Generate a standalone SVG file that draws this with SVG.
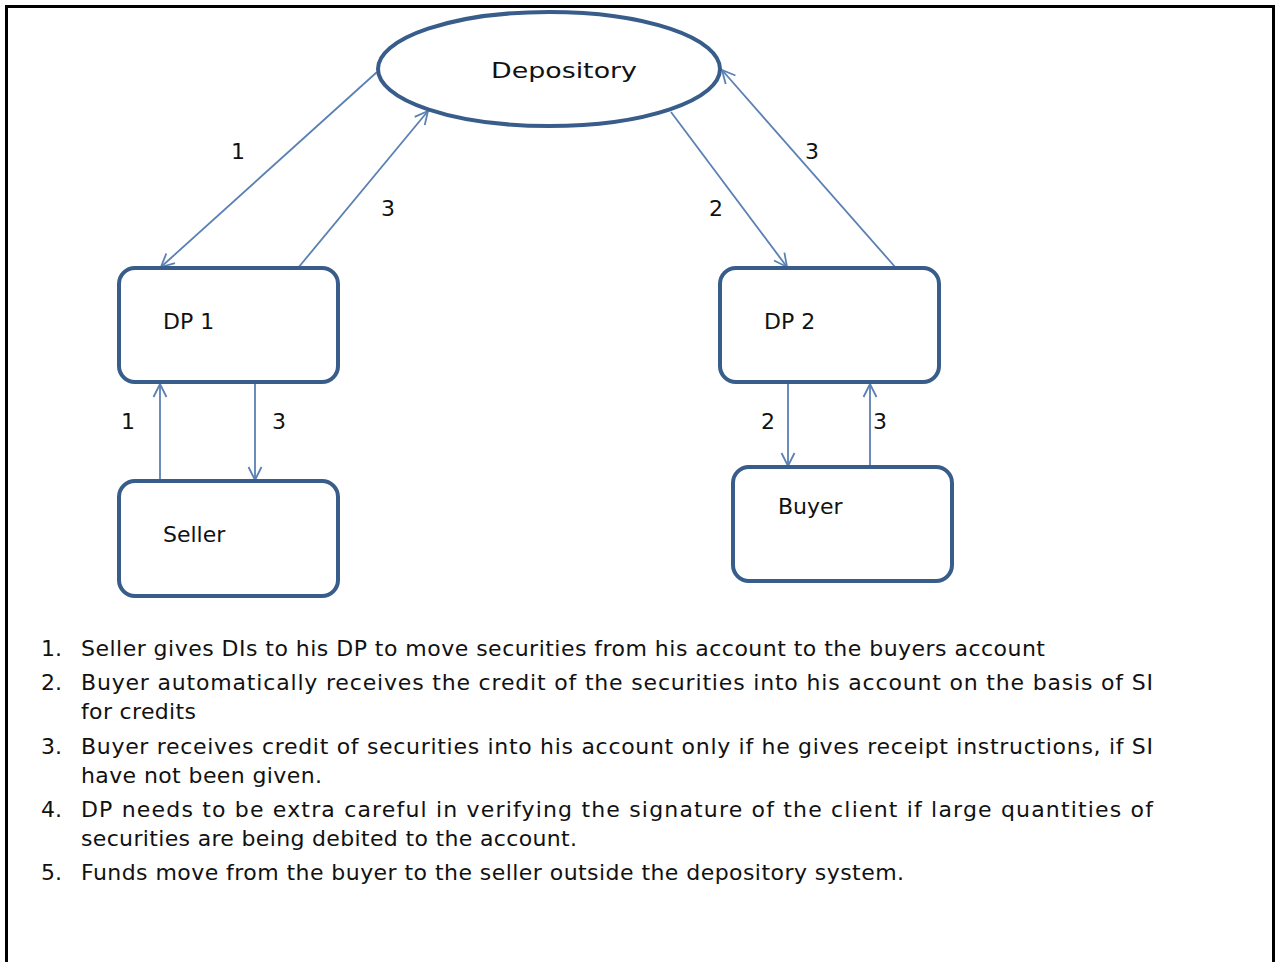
<svg xmlns="http://www.w3.org/2000/svg" width="1277" height="962" viewBox="0 0 1277 962">
<style>
  .shape { fill: #ffffff; stroke: #385D8A; stroke-width: 4; }
  .conn { fill: none; stroke: #5A80B4; stroke-width: 1.8; }
  .lbl { font-family: "DejaVu Sans", Verdana, sans-serif; font-size: 22px; fill: #111111; }
  .num { font-family: "DejaVu Sans", Verdana, sans-serif; font-size: 22px; fill: #111111; text-anchor: middle; }
  .list { font-family: "DejaVu Sans", Verdana, sans-serif; font-size: 22px; fill: #111111; }
</style>
<defs>
  <marker id="arr" viewBox="0 0 16 16" refX="15" refY="8" markerWidth="16" markerHeight="16" markerUnits="userSpaceOnUse" orient="auto">
    <path d="M2,1.5 L15,8 L2,14.5" fill="none" stroke="#5A80B4" stroke-width="1.8"/>
  </marker>
</defs>
<rect x="0" y="0" width="1277" height="962" fill="#ffffff"/>
<path d="M6.5,962 L6.5,6.5 L1273.5,6.5 L1273.5,962" fill="none" stroke="#000000" stroke-width="3"/>

<g id="connectors">
  <line class="conn" x1="377" y1="72" x2="161" y2="267" marker-end="url(#arr)"/>
  <line class="conn" x1="298" y1="268" x2="428" y2="111" marker-end="url(#arr)"/>
  <line class="conn" x1="671" y1="112" x2="787" y2="267" marker-end="url(#arr)"/>
  <line class="conn" x1="896" y1="268" x2="722" y2="70" marker-end="url(#arr)"/>
  <line class="conn" x1="160" y1="481" x2="160" y2="384" marker-end="url(#arr)"/>
  <line class="conn" x1="255" y1="384" x2="255" y2="480" marker-end="url(#arr)"/>
  <line class="conn" x1="788" y1="384" x2="788" y2="466" marker-end="url(#arr)"/>
  <line class="conn" x1="870" y1="467" x2="870" y2="384" marker-end="url(#arr)"/>
  <text class="num" x="238" y="159">1</text>
  <text class="num" x="388" y="216">3</text>
  <text class="num" x="716" y="216">2</text>
  <text class="num" x="812" y="159">3</text>
  <text class="num" x="128" y="429">1</text>
  <text class="num" x="279" y="429">3</text>
  <text class="num" x="768" y="429">2</text>
  <text class="num" x="880" y="429">3</text>
</g>

<g id="depository">
  <ellipse class="shape" cx="549" cy="69" rx="171" ry="57"/>
  <text class="lbl" x="491" y="78" font-size="28" textLength="146" lengthAdjust="spacingAndGlyphs">Depository</text>
</g>
<g id="dp1">
  <rect class="shape" x="119" y="268" width="219" height="114" rx="16"/>
  <text class="lbl" x="163" y="329">DP 1</text>
</g>
<g id="dp2">
  <rect class="shape" x="720" y="268" width="219" height="114" rx="16"/>
  <text class="lbl" x="764" y="329">DP 2</text>
</g>
<g id="seller">
  <rect class="shape" x="119" y="481" width="219" height="115" rx="16"/>
  <text class="lbl" x="163" y="542">Seller</text>
</g>
<g id="buyer">
  <rect class="shape" x="733" y="467" width="219" height="114" rx="16"/>
  <text class="lbl" x="778" y="514">Buyer</text>
</g>

<g id="notes">
  <text class="list" x="41" y="656">1.</text>
  <text class="list" x="81" y="656" textLength="964" lengthAdjust="spacing">Seller gives DIs to his DP to move securities from his account to the buyers account</text>
  <text class="list" x="41" y="690">2.</text>
  <text class="list" x="81" y="690" textLength="1072" lengthAdjust="spacing">Buyer automatically receives the credit of the securities into his account on the basis of SI</text>
  <text class="list" x="81" y="719" textLength="115" lengthAdjust="spacing">for credits</text>
  <text class="list" x="41" y="754">3.</text>
  <text class="list" x="81" y="754" textLength="1072" lengthAdjust="spacing">Buyer receives credit of securities into his account only if he gives receipt instructions, if SI</text>
  <text class="list" x="81" y="783" textLength="241" lengthAdjust="spacing">have not been given.</text>
  <text class="list" x="41" y="817">4.</text>
  <text class="list" x="81" y="817" textLength="1072" lengthAdjust="spacing">DP needs to be extra careful in verifying the signature of the client if large quantities of</text>
  <text class="list" x="81" y="846" textLength="496" lengthAdjust="spacing">securities are being debited to the account.</text>
  <text class="list" x="41" y="880">5.</text>
  <text class="list" x="81" y="880" textLength="823" lengthAdjust="spacing">Funds move from the buyer to the seller outside the depository system.</text>
</g>
</svg>
